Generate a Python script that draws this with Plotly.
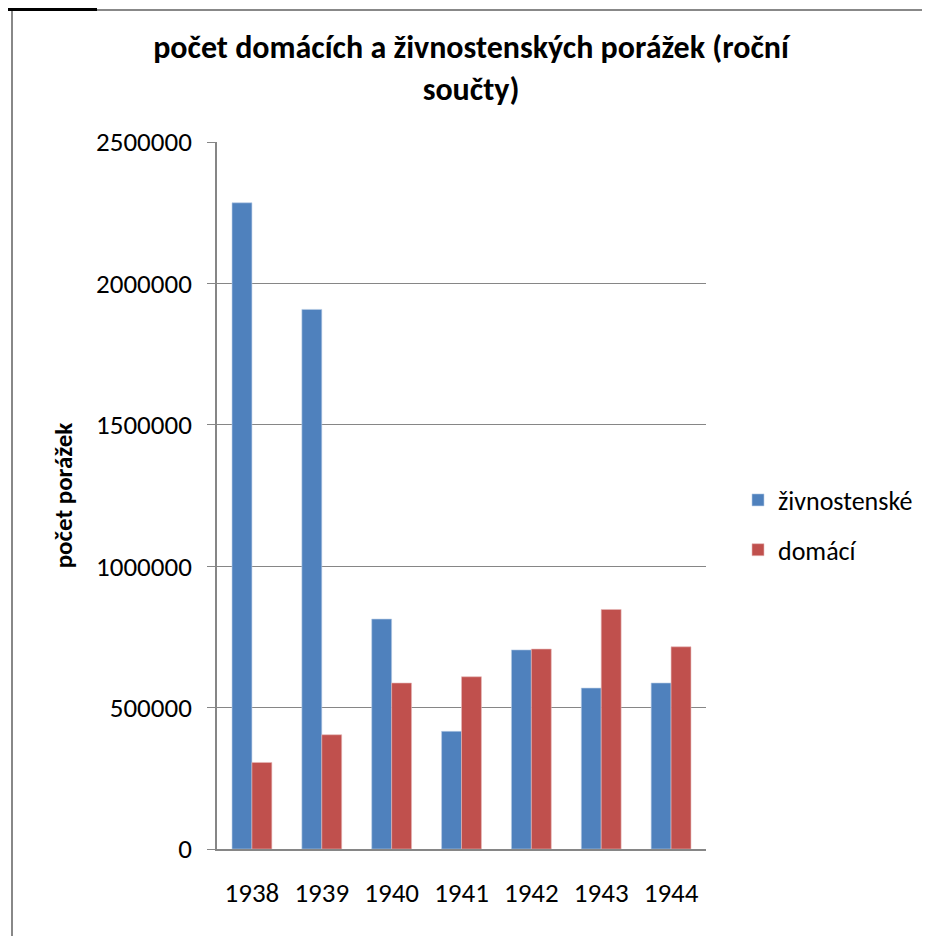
import plotly.graph_objects as go

# data
years = ["1938", "1939", "1940", "1941", "1942", "1943", "1944"]
zivnostenske = [2285000, 1908000, 813000, 416000, 704000, 569000, 587000]
domaci = [306000, 404000, 587000, 609000, 707000, 847000, 715000]
y_ticks = [0, 500000, 1000000, 1500000, 2000000, 2500000]

W, H = 930, 936
OFF = 8  # page body margin shifts the whole figure by 8px
L, R, T, B = 217 - OFF, 224 + OFF, 142 - OFF, 87 + OFF
FONT = "Calibri, Carlito, Lato, sans-serif"
GRID = "#868686"


def px_x(x):
    return (x - OFF - L) / (W - L - R)


def px_y(y):
    return 1 - (y - OFF - T) / (H - T - B)


fig = go.Figure()
fig.add_trace(go.Bar(x=years, y=zivnostenske, name="živnostenské",
                     marker=dict(color="#4F81BD", line=dict(width=0.6, color="#B9CDE5")),
                     legendgroup="a"))
fig.add_trace(go.Bar(x=years, y=domaci, name="domácí",
                     marker=dict(color="#C0504D", line=dict(width=0.6, color="#E6B9B8")),
                     legendgroup="b"))

fig.update_layout(
    width=W,
    height=H,
    margin=dict(l=L, r=R, t=T, b=B),
    paper_bgcolor="white",
    plot_bgcolor="white",
    font=dict(family=FONT, size=27, color="black"),
    barmode="group",
    bargap=0.43,
    bargroupgap=0,
    title=dict(
        text="<b>počet domácích a živnostenských porážek (roční<br>součty)</b>",
        x=(471 - OFF) / W, xref="container", xanchor="center",
        y=1 - 50 / H, yref="container", yanchor="top",
        font=dict(family=FONT, size=32, color="black"),
    ),
    legend=dict(
        x=(750 - OFF - 12) / W, xref="container", xanchor="left",
        y=1 - (525 - OFF) / H, yref="container", yanchor="middle",
        font=dict(family=FONT, size=26),
        tracegroupgap=13,
        bgcolor="rgba(0,0,0,0)",
    ),
    showlegend=True,
    shapes=[
        dict(type="rect", xref="paper", yref="paper",
             x0=px_x(12), x1=px_x(960), y0=px_y(10), y1=px_y(960),
             line=dict(color="#888888", width=2), fillcolor="rgba(0,0,0,0)", layer="below"),
        dict(type="rect", xref="paper", yref="paper",
             x0=px_x(8), x1=px_x(97), y0=px_y(8), y1=px_y(11),
             line=dict(width=0), fillcolor="black"),
    ],
)
fig.update_xaxes(
    showgrid=False,
    showline=True, linecolor=GRID, linewidth=1.5,
    ticks="", ticklabelstandoff=19,
    tickfont=dict(family=FONT, size=27),
)
fig.update_yaxes(
    range=[0, 2500000],
    tickvals=y_ticks, tickformat="d",
    showgrid=True, gridcolor=GRID, gridwidth=1.2,
    showline=True, linecolor=GRID, linewidth=1.5,
    ticks="outside", ticklen=8, tickcolor=GRID, tickwidth=1.2,
    ticklabelstandoff=10,
    zeroline=False,
    tickfont=dict(family=FONT, size=27),
    title=dict(text="<b>počet porážek</b>", standoff=16,
               font=dict(family=FONT, size=25)),
)

fig.write_html("out.html")
